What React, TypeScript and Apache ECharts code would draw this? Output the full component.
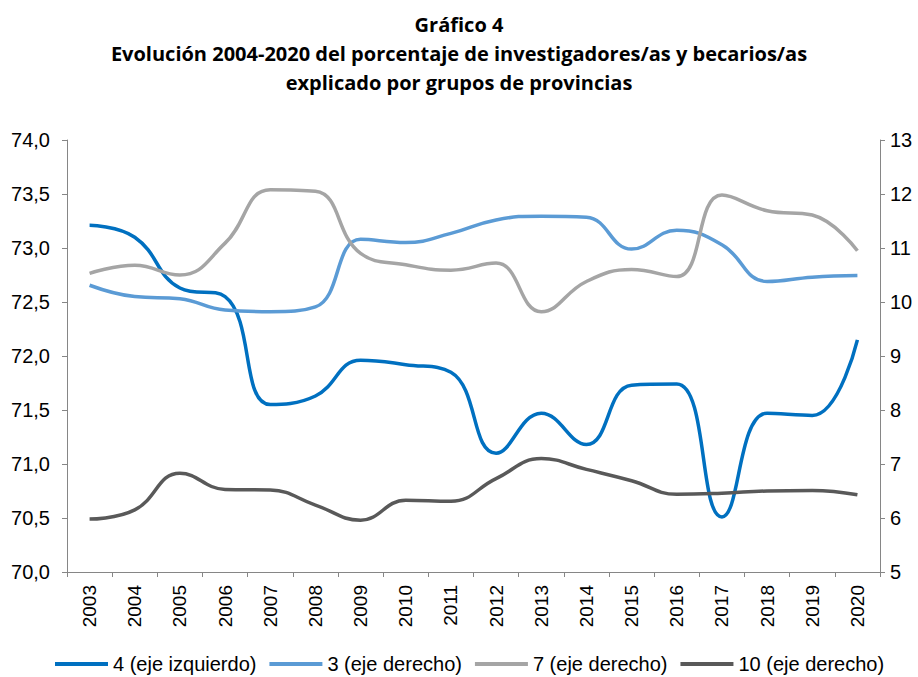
import React, { useEffect, useRef } from "react";
import * as echarts from "echarts";

const categories = ["2003","2004","2005","2006","2007","2008","2009","2010","2011","2012","2013","2014","2015","2016","2017","2018","2019","2020"];
const titleLines = ["Gráfico 4", "Evolución 2004-2020 del porcentaje de investigadores/as y becarios/as", "explicado por grupos de provincias"];
const seriesNames = ["4 (eje izquierdo)", "3 (eje derecho)", "7 (eje derecho)", "10 (eje derecho)"];
const grupo4 = [73.21, 73.10, 72.63, 72.55, 71.55, 71.63, 71.96, 71.92, 71.85, 71.10, 71.47, 71.18, 71.73, 71.74, 70.51, 71.47, 71.45, 72.15];
const grupo3 = [10.31, 10.10, 10.06, 9.85, 9.82, 9.91, 11.16, 11.10, 11.27, 11.52, 11.59, 11.57, 10.98, 11.33, 11.06, 10.38, 10.46, 10.49];
const grupo7 = [10.53, 10.68, 10.50, 11.09, 12.08, 12.05, 10.90, 10.69, 10.59, 10.72, 9.82, 10.38, 10.60, 10.47, 11.98, 11.69, 11.61, 10.95];
const grupo10 = [5.98, 6.15, 6.83, 6.53, 6.52, 6.24, 5.96, 6.33, 6.31, 6.73, 7.10, 6.90, 6.69, 6.44, 6.46, 6.50, 6.51, 6.43];
const colors = ["#0070C0", "#5B9BD5", "#A5A5A5", "#595959"];

export default function App() {
  const ref = useRef<HTMLDivElement>(null);
  useEffect(() => {
    if (!ref.current) return;
    const chart = echarts.init(ref.current, null, { renderer: "svg" });
    const axisColor = "#868686";
    const labelFont = "'Liberation Sans', Arial, sans-serif";
    const mk = (name: string, data: number[], color: string, yAxisIndex: number) => ({
      name,
      type: "line",
      data,
      yAxisIndex,
      smooth: 0.45,
      showSymbol: false,
      symbol: "none",
      lineStyle: { color, width: 3.5 },
      itemStyle: { color },
    });
    chart.setOption({
      animation: false,
      title: titleLines.map((t, i) => ({
        text: t,
        left: "center",
        top: 10 + i * 29,
        padding: 0,
        textStyle: {
          fontFamily: "'Open Sans', sans-serif",
          fontWeight: "bold",
          fontSize: 20,
          lineHeight: 29,
          color: "#000",
        },
      })),
      legend: {
        data: seriesNames,
        left: 55,
        top: 652,
        padding: 0,
        icon: "rect",
        itemWidth: 53,
        itemHeight: 4,
        itemGap: 13,
        textStyle: { fontFamily: labelFont, fontSize: 20, lineHeight: 24, color: "#000" },
      },
      grid: { left: 67, right: 38, top: 140, bottom: 105 },
      xAxis: {
        type: "category",
        data: categories,
        boundaryGap: true,
        axisLine: { lineStyle: { color: axisColor, width: 1 } },
        axisTick: { show: true, length: 5, lineStyle: { color: axisColor } },
        axisLabel: { rotate: 90, margin: 13, fontFamily: labelFont, fontSize: 19, color: "#000" },
        splitLine: { show: false },
      },
      yAxis: [
        {
          type: "value",
          min: 70,
          max: 74,
          interval: 0.5,
          position: "left",
          axisLine: { show: true, lineStyle: { color: axisColor } },
          axisTick: { show: true, length: 5, lineStyle: { color: axisColor } },
          axisLabel: {
            margin: 17,
            fontFamily: labelFont,
            fontSize: 20,
            color: "#000",
            formatter: (v: number) => v.toFixed(1).replace(".", ","),
          },
          splitLine: { show: false },
        },
        {
          type: "value",
          min: 5,
          max: 13,
          interval: 1,
          position: "right",
          axisLine: { show: true, lineStyle: { color: axisColor } },
          axisTick: { show: true, length: 5, lineStyle: { color: axisColor } },
          axisLabel: { margin: 10, fontFamily: labelFont, fontSize: 20, color: "#000" },
          splitLine: { show: false },
        },
      ],
      series: [
        mk(seriesNames[0], grupo4, colors[0], 0),
        mk(seriesNames[1], grupo3, colors[1], 1),
        mk(seriesNames[2], grupo7, colors[2], 1),
        mk(seriesNames[3], grupo10, colors[3], 1),
      ],
    });
    return () => chart.dispose();
  }, []);
  return <div ref={ref} style={{ width: 918, height: 677, position: "absolute", left: 0, top: 0 }} />;
}
